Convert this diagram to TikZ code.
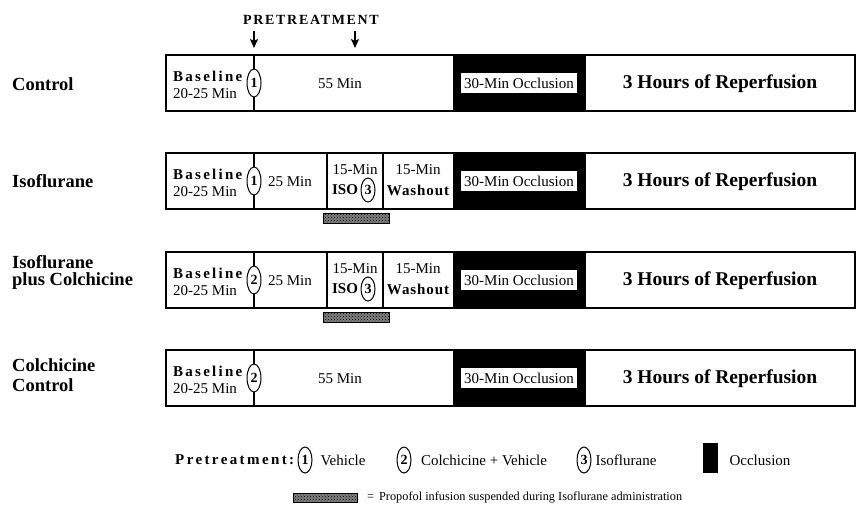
\documentclass[tikz,border=0pt]{standalone}
\usepackage{fontspec}
\setmainfont{Liberation Serif}
\usepackage{tikz}
\usetikzlibrary{shapes.geometric,patterns,arrows.meta}

% gesperrter Fettdruck
\newcommand{\gesperrt}[2][15]{{\bfseries\addfontfeature{LetterSpace=#1}#2}}

\tikzset{
  balken/.style={draw,line width=1.3pt},
  dosis/.style={ellipse,draw,fill=white,line width=1pt,inner sep=0pt,
    minimum width=14pt,minimum height=28pt,font=\bfseries\fontsize{14}{14}\selectfont},
  txt/.style={inner sep=0pt,font=\fontsize{15}{17}\selectfont},
  gruppe/.style={anchor=west,inner sep=0pt,align=left,font=\bfseries\fontsize{18.5}{17}\selectfont},
  okkl/.style={fill=white,inner sep=0pt,minimum width=116pt,minimum height=20pt,
    font=\fontsize{15}{17}\selectfont},
  reperf/.style={inner sep=0pt,font=\bfseries\fontsize{19.5}{21}\selectfont},
  propofol/.style={draw=black,fill=black!50,line width=0.8pt,
    postaction={pattern=crosshatch dots,pattern color=black}},
  pfeil/.style={line width=1.8pt,-{Stealth[length=9pt,width=8pt,inset=2pt]}}
}

\begin{document}
\begin{tikzpicture}[x=1pt,y=-1pt]
	 \useasboundingbox (0,0) rectangle (867,504);
	 % Ueberschrift mit den beiden Pfeilen:
	 \node[inner sep=0pt,font=\fontsize{14}{14}\selectfont] (vorbeh) at (311,20) {\gesperrt[12]{PRETREATMENT}};
	 \coordinate (pfeilA) at (254,31);  \coordinate (pfeilAende) at (254,48);
	 \coordinate (pfeilB) at (355,31);  \coordinate (pfeilBende) at (355,48);
	 \draw[pfeil] (pfeilA) -- (pfeilAende);
	 \draw[pfeil] (pfeilB) -- (pfeilBende);
	 % Gruppennamen links:
	 \node[gruppe] (g-ctl) at (12,84) {Control};
	 \node[gruppe] (g-iso) at (12,181) {Isoflurane};
	 \node[gruppe] (g-isc) at (12,272) {Isoflurane\\plus Colchicine};
	 \node[gruppe] (g-cc)  at (12,375) {Colchicine\\[3pt]Control};
	 % Die vier Zeitbalken mit gemeinsamen Teilen:
	 \foreach \y/\n/\name in {55/1/ctl,153/1/iso,252/2/isc,350/2/cc}
	 {
	   \fill (453,\y) rectangle (586,\y+56);
	   \draw[balken] (166,\y) rectangle (855,\y+56);
	   \draw[balken] (254,\y) -- (254,\y+56);
	   \node[dosis] (\name-dosis) at (254,\y+28) {\n};
	   \node[txt,anchor=west] (\name-base) at (173,\y+21) {\gesperrt{Baseline}};
	   \node[txt,anchor=west] (\name-min) at (173,\y+39) {20-25 Min};
	   \node[okkl] (\name-okkl) at (519,\y+28) {30-Min Occlusion};
	   \node[reperf] (\name-rep) at (720,\y+29) {3 Hours of Reperfusion};
	 }
	 % Kontrollen: 55 Minuten ohne Unterteilung
	 \foreach \y/\name in {55/ctl,350/cc}
	   \node[txt] (\name-55) at (340,\y+29) {55 Min};
	 % Isofluran-Gruppen: 25 Min, ISO, Auswaschen
	 \foreach \y/\name in {153/iso,252/isc}
	 {
	   \draw[balken] (327,\y) -- (327,\y+56);
	   \draw[balken] (383,\y) -- (383,\y+56);
	   \node[txt] (\name-25) at (290,\y+29) {25 Min};
	   \node[txt] (\name-15a) at (355,\y+17) {15-Min};
	   \node[txt] (\name-isotxt) at (345,\y+37) {\bfseries ISO};
	   \node[dosis,minimum width=14pt,minimum height=24pt] (\name-iso3) at (368,\y+37) {3};
	   \node[txt] (\name-15b) at (418,\y+17) {15-Min};
	   \node[txt] (\name-wash) at (418,\y+37) {\gesperrt[6]{Washout}};
	   \draw[propofol] (323,\y+60) rectangle (389,\y+70);
	 }
	 % Legende:
	 \node[txt,anchor=west] (leg-titel) at (175,460) {\gesperrt[16]{Pretreatment:}};
	 \node[dosis,minimum height=26pt] (leg-1) at (305,460) {1};
	 \node[txt] (leg-1txt) at (343,460) {Vehicle};
	 \node[dosis,minimum height=26pt] (leg-2) at (404,460) {2};
	 \node[txt] (leg-2txt) at (484,460) {Colchicine + Vehicle};
	 \node[dosis,minimum height=26pt] (leg-3) at (584,460) {3};
	 \node[txt] (leg-3txt) at (626,460) {Isoflurane};
	 \fill (703,443) rectangle (718,473);
	 \node[txt] (leg-okkl) at (760,460) {Occlusion};
	 % Propofol-Zeichen unten:
	 \draw[propofol] (293,493) rectangle (357,502);
	 \node[inner sep=0pt,anchor=west,font=\fontsize{12.3}{14}\selectfont] (leg-prop) at (367,497)
	   {=\hspace{5pt}Propofol infusion suspended during Isoflurane administration};
\end{tikzpicture}
\end{document}
